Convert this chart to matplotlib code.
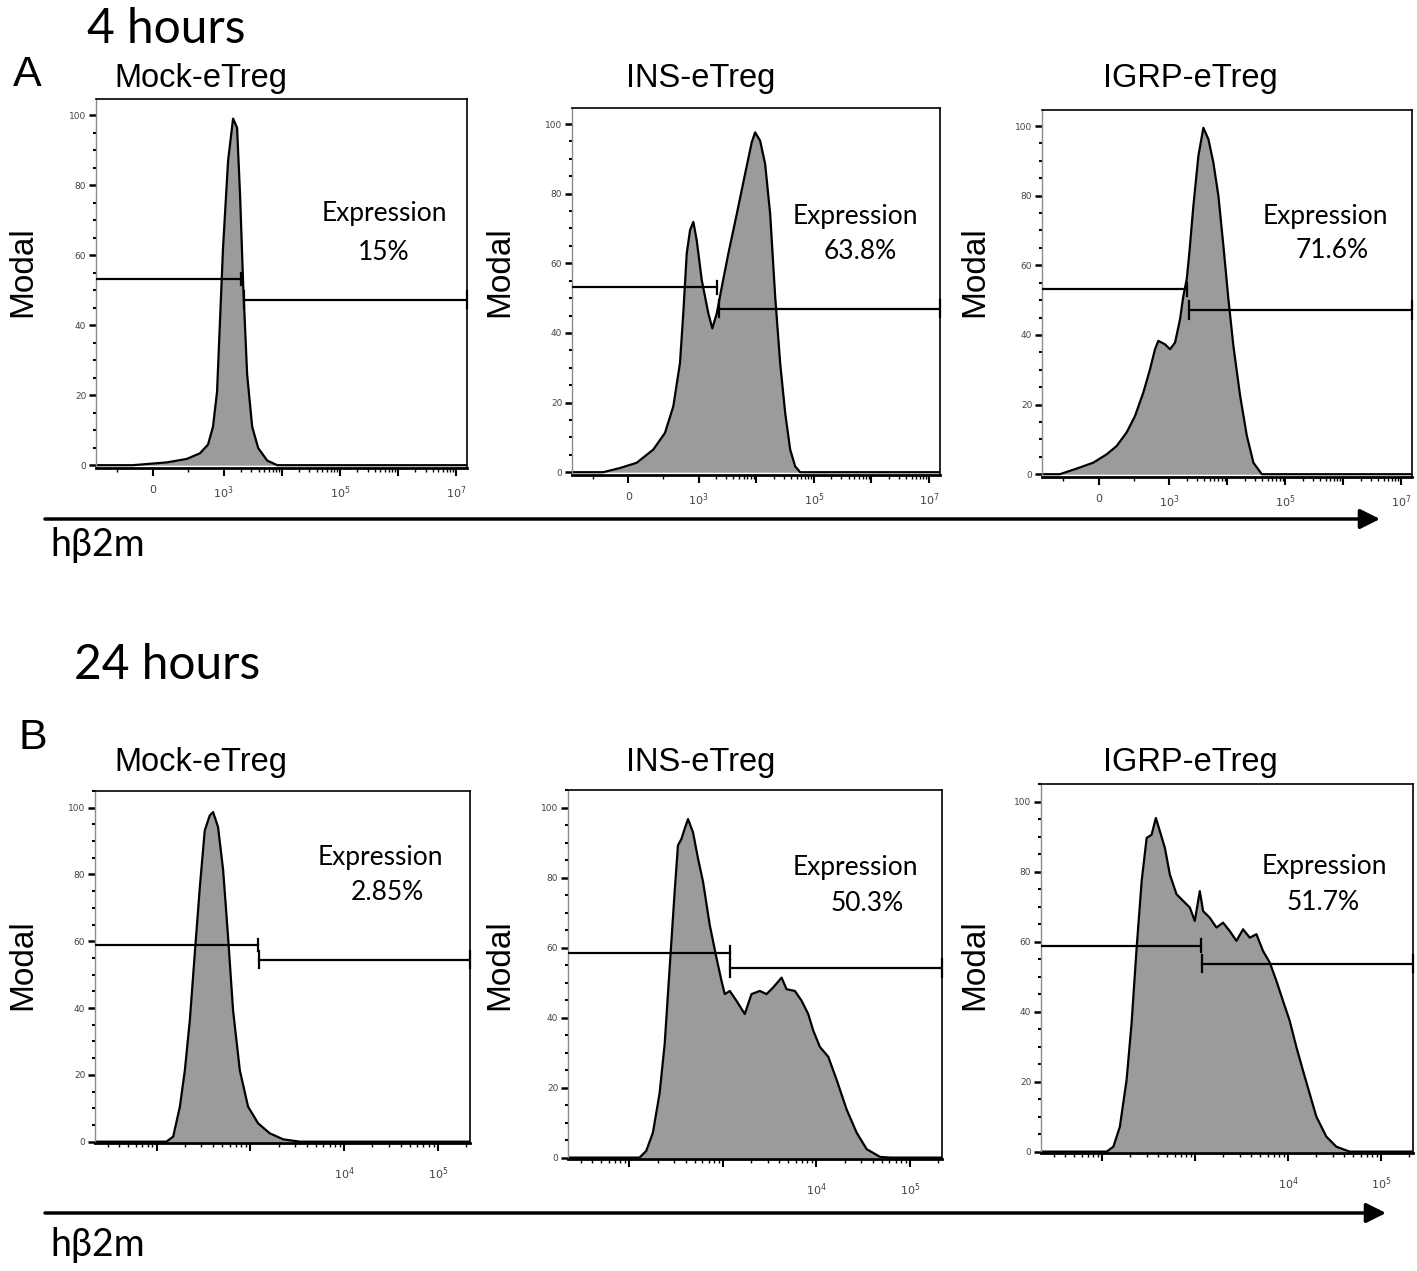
import matplotlib
matplotlib.use("Agg")
import matplotlib.pyplot as plt
import matplotlib.patches as mpatches
from matplotlib.ticker import FixedLocator, FixedFormatter, LogLocator, NullFormatter, MultipleLocator

# ---------------- data ----------------
samples = ["Mock-eTreg", "INS-eTreg", "IGRP-eTreg"]

# 4 hours: hβ2m intensity vs modal (%)
mock_4h_x = [-800, -283, 199, 481, 665, 779, 849, 906, 948, 990, 1189, 1449, 1698,
             1914, 2158, 2529, 3090, 3926, 5623, 8375, 1.55e7]
mock_4h_y = [0, 0, 0.8, 1.8, 3.4, 5.9, 11, 21, 41.5, 62, 87, 99, 96.4,
             77, 52, 26, 11, 4.9, 1.3, 0, 0]
ins_4h_x = [-800, -689, -357, -119, 118, 355, 521, 639, 734, 781, 830, 877, 924, 972,
            1130, 1472, 1726, 2061, 2518, 3273, 4592, 6397, 8356, 9550, 11670, 14260,
            17420, 21300, 26000, 31770, 38800, 47300, 57800, 1.55e7]
ins_4h_y = [0, 0, 0, 1.2, 2.7, 6.5, 11.3, 18.9, 31.3, 45.6, 62.8, 69.5, 71.9, 66.6,
            55.2, 45.6, 41.3, 45.6, 53.2, 62.8, 74.2, 85.7, 94.8, 97.6, 95.2, 88.5,
            74.2, 50.4, 31.3, 17, 6.5, 1.7, 0, 0]
igrp_4h_x = [-800, -689, -548, -312, -77, 113, 255, 396, 514, 631, 726, 797, 844, 939,
             1026, 1253, 1528, 1742, 1995, 2213, 2594, 3170, 3864, 4721, 5754, 7031,
             8570, 10470, 12760, 16670, 21780, 28310, 39540, 1.55e7]
igrp_4h_y = [0, 0, 0, 1.6, 3.3, 5.7, 8.1, 12, 16.7, 23.4, 30.1, 35.9, 38.3, 37.3,
             35.9, 37.8, 44.5, 51.2, 56, 63.6, 77, 91.4, 99.5, 96.2, 89.5, 79.9,
             65.6, 50.2, 36.8, 22.5, 11, 3.3, 0, 0]

# 24 hours
mock_24h_x = [22, 127, 150, 177, 200, 226, 255, 289, 326, 369, 400, 452, 512, 578,
              653, 771, 944, 1208, 1610, 2234, 3365, 2.2e5]
mock_24h_y = [0, 0, 1.5, 10.5, 21.4, 36.4, 56.3, 76.3, 93.2, 97.7, 98.7, 94.2, 81.3, 61.3,
              39.4, 21.4, 10.5, 5.5, 2.5, 0.7, 0, 0]
ins_24h_x = [22, 128, 151, 178, 210, 238, 269, 304, 330, 359, 389, 423, 478, 541, 612,
             721, 851, 964, 1045, 1183, 1394, 1710, 2018, 2477, 2924, 3443, 4236, 4786,
             5875, 6934, 8166, 9230, 10890, 13370, 16440, 21040, 26920, 34440, 47860,
             61240, 2.2e5]
ins_24h_y = [0, 0, 1.9, 7.1, 18.4, 32.5, 54.2, 75.9, 89.2, 91, 93.9, 96.7, 92.9, 85.4, 78.8,
             66.5, 57.1, 50.5, 46.7, 47.6, 44.8, 41, 46.7, 47.6, 46.7, 48.6, 51.4, 48.1,
             47.6, 44.8, 41, 36.3, 31.6, 28.8, 22.2, 13.7, 7.1, 2.4, 0.2,
             0, 0]
igrp_24h_x = [22, 112, 132, 155, 183, 207, 235, 266, 301, 340, 378, 418, 473, 535, 631,
              743, 877, 991, 1122, 1218, 1436, 1695, 1995, 2355, 2780, 3273, 3864, 4560,
              5370, 6340, 7470, 8790, 10380, 12250, 14420, 17020, 20090, 25700, 32960,
              45710, 2.2e5]
igrp_24h_y = [0, 0, 1.4, 7.1, 20.4, 36.5, 58.3, 77.3, 89.6, 90.5, 95.3, 91.5, 86.7, 79.1, 73.5,
              71.6, 69.7, 65.9, 74.4, 68.7, 66.8, 64, 65.4, 63, 60.2, 63.5, 61.1, 62.1,
              57.3, 54, 48.8, 43.1, 37.4, 29.9, 23.2, 16.6, 10, 4.3, 1.4,
              0, 0]

pct_4h = ["15%", "63.8%", "71.6%"]
pct_24h = ["2.85%", "50.3%", "51.7%"]

# gates: (end of left gate, start of right gate) and their heights
split_4h = [(2000, 2240), (2110, 2286), (2010, 2213)]
gate_y_4h = [(53.2, 47.3), (53.1, 47.0), (53.1, 47.2)]
split_24h = [(1208, 1239), (1183, 1202), (1170, 1199)]
gate_y_24h = [(58.8, 54.5), (58.5, 54.1), (58.8, 53.7)]

y_ticks = [0, 20, 40, 60, 80, 100]

# ---------------- layout (pixels) ----------------
W, H = 1417, 1271
top_boxes = [(96, 99, 467, 468), (572, 108, 940, 475), (1042, 110, 1412, 477)]
bot_boxes = [(95, 791, 470, 1143), (568, 790, 942, 1159), (1041, 784, 1413, 1153)]
top_text = [(0.776, 0.691, 0.776, 0.584), (0.770, 0.703, 0.783, 0.608), (0.766, 0.711, 0.784, 0.616)]
bot_text = [(0.760, 0.812, 0.779, 0.713), (0.768, 0.791, 0.799, 0.693), (0.763, 0.777, 0.758, 0.678)]
title_x = [201, 701, 1190]
modal_x = [38, 515, 990]   # right edge of the rotated "Modal" label

SANS = ["Liberation Sans", "DejaVu Sans"]
CAL = ["Lato", "DejaVu Sans"]

fig = plt.figure(figsize=(W / 100, H / 100), dpi=100)
fig.patch.set_facecolor("white")


def fx(px):
    return px / W


def fy(py):
    return 1 - py / H


def draw_panel(ax, x, y, split, gy, xlim, ylim, box, modal_rx, modal_cy):
    ax.fill_between(x, y, 0, color="#9b9b9b", lw=0, zorder=1)
    ax.plot(x, y, color="black", lw=1.6, zorder=2)
    x0, x1 = xlim
    ax.plot([x0, split[0]], [gy[0], gy[0]], color="black", lw=1.6, zorder=3)
    ax.plot([split[0], split[0]], [gy[0] - 1.8, gy[0] + 1.8], color="black", lw=1.6, zorder=3)
    ax.plot([split[1], x1], [gy[1], gy[1]], color="black", lw=1.6, zorder=3)
    ax.plot([split[1], split[1]], [gy[1] - 2.5, gy[1] + 2.5], color="black", lw=1.6, zorder=3)
    ax.plot([x1, x1], [gy[1] - 2.5, gy[1] + 2.5], color="black", lw=1.6, zorder=3, clip_on=False)
    ax.set_xlim(xlim)
    ax.set_ylim(ylim)

    ax.yaxis.set_major_locator(FixedLocator(y_ticks))
    ax.yaxis.set_minor_locator(MultipleLocator(5))
    ax.tick_params(axis="y", which="major", direction="out", length=5, width=1.8,
                   labelsize=6.5, labelcolor="#444444", pad=2)
    ax.tick_params(axis="y", which="minor", direction="out", length=2.5, width=1.5)
    for s in ("top", "right"):
        ax.spines[s].set_linewidth(1.2)
    ax.spines["bottom"].set_linewidth(2.0)
    ax.spines["left"].set_color("#8c8c8c")
    ax.spines["left"].set_linewidth(1.0)

    l, t, r, b = box
    ax.set_ylabel("Modal", family=SANS, fontsize=24)
    ax.yaxis.set_label_coords((modal_rx - l) / (r - l), (b - modal_cy) / (b - t))


# ---------------- 4 hours ----------------
x4 = [mock_4h_x, ins_4h_x, igrp_4h_x]
y4 = [mock_4h_y, ins_4h_y, igrp_4h_y]
for i in range(3):
    l, t, r, b = top_boxes[i]
    ax = fig.add_axes([fx(l), fy(b), (r - l) / W, (b - t) / H])
    ax.set_xscale("symlog", linthresh=1000, linscale=1.1)
    draw_panel(ax, x4[i], y4[i], split_4h[i], gate_y_4h[i], (-800, 1.55e7),
               (-0.8, 104.6), top_boxes[i], modal_x[i], 272)
    ax.xaxis.set_major_locator(FixedLocator([0, 1e3, 1e4, 1e5, 1e6, 1e7]))
    ax.xaxis.set_major_formatter(FixedFormatter(["0", r"$10^3$", "", r"$10^5$", "", r"$10^7$"]))
    ax.xaxis.set_minor_locator(FixedLocator([-500, 500] + [k * 10 ** e for e in range(3, 7) for k in range(2, 10)]))
    ax.tick_params(axis="x", which="major", direction="out", length=6, width=1.5,
                   labelsize=8, labelcolor="#444444", pad=6)
    ax.tick_params(axis="x", which="minor", direction="out", length=3, width=1)
    ex, ey, px_, py_ = top_text[i]
    ax.text(ex, ey, "Expression", transform=ax.transAxes, ha="center", va="center",
            family=CAL, fontsize=19)
    ax.text(px_, py_, pct_4h[i], transform=ax.transAxes, ha="center", va="center",
            family=CAL, fontsize=19)
    fig.text(fx(title_x[i]), fy(78), samples[i], ha="center", va="center",
             family=SANS, fontsize=23.5)

# ---------------- 24 hours ----------------
x24 = [mock_24h_x, ins_24h_x, igrp_24h_x]
y24 = [mock_24h_y, ins_24h_y, igrp_24h_y]
for i in range(3):
    l, t, r, b = bot_boxes[i]
    ax = fig.add_axes([fx(l), fy(b), (r - l) / W, (b - t) / H])
    ax.set_xscale("log")
    draw_panel(ax, x24[i], y24[i], split_24h[i], gate_y_24h[i], (22, 2.2e5),
               (-0.4, 105), bot_boxes[i], modal_x[i], 965)
    ax.xaxis.set_major_locator(FixedLocator([1e2, 1e3, 1e4, 1e5]))
    ax.xaxis.set_major_formatter(FixedFormatter(["", "", r"$10^4$", r"$10^5$"]))
    ax.xaxis.set_minor_locator(LogLocator(base=10, subs=range(2, 10)))
    ax.xaxis.set_minor_formatter(NullFormatter())
    ax.tick_params(axis="x", which="major", direction="out", length=6, width=1.5,
                   labelsize=8, labelcolor="#444444", pad=10)
    ax.tick_params(axis="x", which="minor", direction="out", length=3, width=1)
    ex, ey, px_, py_ = bot_text[i]
    ax.text(ex, ey, "Expression", transform=ax.transAxes, ha="center", va="center",
            family=CAL, fontsize=19)
    ax.text(px_, py_, pct_24h[i], transform=ax.transAxes, ha="center", va="center",
            family=CAL, fontsize=19)
    fig.text(fx(title_x[i]), fy(763), samples[i], ha="center", va="center",
             family=SANS, fontsize=23.5)

# ---------------- figure annotations ----------------
fig.text(fx(87), fy(29), "4 hours", ha="left", va="center", family=CAL, fontsize=34.5)
fig.text(fx(74), fy(665), "24 hours", ha="left", va="center", family=CAL, fontsize=34.5)
fig.text(fx(27), fy(75), "A", ha="center", va="center", family=SANS, fontsize=31)
fig.text(fx(33), fy(738), "B", ha="center", va="center", family=SANS, fontsize=31)
fig.text(fx(50), fy(545), "hβ2m", ha="left", va="center", family=CAL, fontsize=27)
fig.text(fx(50), fy(1245), "hβ2m", ha="left", va="center", family=CAL, fontsize=27)

for ya, xe in ((519, 1380), (1213, 1386)):
    arrow = mpatches.FancyArrowPatch((fx(45), fy(ya)), (fx(xe), fy(ya)),
                                     transform=fig.transFigure,
                                     arrowstyle="-|>,head_length=1.2,head_width=0.6",
                                     mutation_scale=10, lw=2.5, color="black",
                                     shrinkA=0, shrinkB=0)
    fig.add_artist(arrow)

plt.savefig("out.png", dpi=100, facecolor="white")
